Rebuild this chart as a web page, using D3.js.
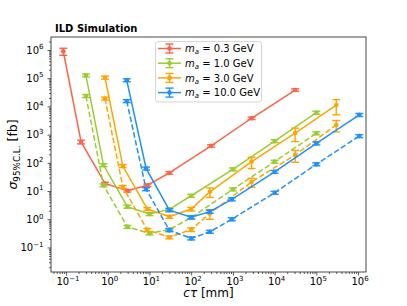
<!DOCTYPE html>
<html><head><meta charset="utf-8">
<script src="https://cdn.jsdelivr.net/npm/d3@7"></script>
<style>body{margin:0;background:#fff} svg{display:block} text{font-family:"DejaVu Sans",sans-serif;fill:#000}</style>
</head><body><svg id="c" width="407" height="306"></svg>
<script>
// ---- data ----
const masses = ["0.3", "1.0", "3.0", "10.0"];
const colors = ["#ff6347", "#9acd32", "#ffa500", "#1e90ff"];

const ctau03  = [0.086, 0.23, 0.86, 2.95, 8.9, 30, 300, 2800, 31000];
const sig03   = [9e5, 550, 18.5, 10.2, 16, 44, 400, 3800, 38000];
const err03   = [0.28, 0.15, 0.1, 0.1, 0.1, 0.1, 0.1, 0.1, 0.1];

const ctau10  = [0.30, 0.79, 2.95, 10, 30, 100, 1000, 1e4, 1e5];
const sig10   = [1.26e5, 83, 2.8, 1.53, 2.24, 6.8, 59, 590, 6000];
const sig10d  = [2.35e4, 16, 0.54, 0.316, 0.43, 1.15, 11.5, 110, 1120];
const err10   = [0.12, 0.12, 0.12, 0.12, 0.12, 0.12, 0.12, 0.12, 0.12];

const ctau30  = [0.86, 2.3, 8.9, 30, 100, 280, 2800, 31000, 3e5];
const sig30   = [1.05e5, 77, 2.3, 1.23, 2.3, 9.4, 110, 1130, 11200];
const sig30d  = [1.9e4, 14, 0.42, 0.23, 0.43, 1.6, 21, 190, 2200];
const err30   = [0.12, 0.12, 0.12, 0.12, 0.15, 0.37, 0.43, 0.5, 0.55];
const err30d  = [0.12, 0.12, 0.12, 0.12, 0.15, 0.38, 0.35, 0.45, 0.43];

const ctau100 = [2.85, 8.3, 30, 100, 280, 940, 1e4, 1e5, 1.07e6];
const sig100  = [8.5e4, 63, 2.1, 1.17, 1.86, 5.1, 48, 490, 4990];
const sig100d = [1.55e4, 11.7, 0.41, 0.21, 0.36, 1.0, 8.7, 89, 890];
const err100  = [0.12, 0.12, 0.12, 0.12, 0.12, 0.12, 0.12, 0.12, 0.12];

const xTickExp = [-1, 0, 1, 2, 3, 4, 5, 6];
const yTickExp = [-1, 0, 1, 2, 3, 4, 5, 6];

const series = [
  {c: 0, x: ctau03,  y: sig03,   e: err03,  dash: false},
  {c: 1, x: ctau10,  y: sig10,   e: err10,  dash: false},
  {c: 1, x: ctau10,  y: sig10d,  e: err10,  dash: true},
  {c: 2, x: ctau30,  y: sig30,   e: err30,  dash: false},
  {c: 2, x: ctau30,  y: sig30d,  e: err30d, dash: true},
  {c: 3, x: ctau100, y: sig100,  e: err100, dash: false},
  {c: 3, x: ctau100, y: sig100d, e: err100, dash: true}
];

// ---- layout ----
const L = 51, R = 366, T = 37, B = 272;
const svg = d3.select("#c");
const x = d3.scaleLog().domain([Math.pow(10, -1.36), Math.pow(10, 6.19)]).range([L, R]);
const y = d3.scaleLog().domain([Math.pow(10, -1.87), Math.pow(10, 6.46)]).range([B, T]);

function minorTicks(scale) {
  const [a, b] = scale.domain();
  const out = [];
  for (let e = Math.floor(Math.log10(a)); e <= Math.ceil(Math.log10(b)); e++)
    for (let k = 2; k <= 9; k++) { const v = k * Math.pow(10, e); if (v >= a && v <= b) out.push(v); }
  return out;
}

// axes ticks
const gx = svg.append("g").attr("transform", `translate(0,${B})`);
gx.call(d3.axisBottom(x).tickValues(xTickExp.map(e => Math.pow(10, e))).tickSize(3.5).tickFormat(""));
gx.append("g").call(d3.axisBottom(x).tickValues(minorTicks(x)).tickSize(2).tickFormat(""));
const gy = svg.append("g").attr("transform", `translate(${L},0)`);
gy.call(d3.axisLeft(y).tickValues(yTickExp.map(e => Math.pow(10, e))).tickSize(3.5).tickFormat(""));
gy.append("g").call(d3.axisLeft(y).tickValues(minorTicks(y)).tickSize(2).tickFormat(""));
svg.selectAll(".domain").remove();
svg.selectAll(".tick line").attr("stroke", "#333").attr("stroke-width", 0.8);

function expLabel(sel, e) {
  sel.append("tspan").text("10");
  sel.append("tspan").attr("font-size", 7).attr("dy", -4.5).text(e < 0 ? "\u2212" + (-e) : String(e));
}
xTickExp.forEach(e => {
  const t = svg.append("text").attr("x", x(Math.pow(10, e)) + 2).attr("y", 285)
    .attr("text-anchor", "middle").attr("font-size", 10);
  expLabel(t, e);
});
yTickExp.forEach(e => {
  const t = svg.append("text").attr("x", 43.5).attr("y", y(Math.pow(10, e)) + 3.8)
    .attr("text-anchor", "end").attr("font-size", 10);
  expLabel(t, e);
});

// clip
svg.append("clipPath").attr("id", "clip").append("rect")
  .attr("x", L).attr("y", T).attr("width", R - L).attr("height", B - T);
const plot = svg.append("g").attr("clip-path", "url(#clip)");

const line = d3.line().x(d => x(d[0])).y(d => y(d[1]));
series.forEach(s => {
  const pts = s.x.map((v, i) => [v, s.y[i], s.e[i]]);
  const col = colors[s.c];
  plot.append("path").attr("d", line(pts)).attr("fill", "none").attr("stroke", col)
    .attr("stroke-width", 1.5).attr("stroke-dasharray", s.dash ? "5.5,2.5" : null);
  const g = plot.append("g").attr("stroke", col).attr("stroke-width", 1.4);
  pts.forEach(p => {
    const cx = x(p[0]), y1 = y(p[1] * (1 + p[2])), y0 = y(p[1] * (1 - p[2]));
    g.append("line").attr("x1", cx).attr("x2", cx).attr("y1", y1).attr("y2", y0);
    g.append("line").attr("x1", cx - 4).attr("x2", cx + 4).attr("y1", y1).attr("y2", y1);
    g.append("line").attr("x1", cx - 4).attr("x2", cx + 4).attr("y1", y0).attr("y2", y0);
    plot.append("circle").attr("cx", cx).attr("cy", y(p[1])).attr("r", 2.3).attr("fill", col);
  });
});

// frame
svg.append("rect").attr("x", L).attr("y", T).attr("width", R - L).attr("height", B - T)
  .attr("fill", "none").attr("stroke", "#333").attr("stroke-width", 0.9);

// title
svg.append("text").attr("x", 55).attr("y", 31.5).attr("font-size", 10).attr("font-weight", "bold")
  .text("ILD Simulation");

// legend
const lg = svg.append("g");
lg.append("rect").attr("x", 155.5).attr("y", 41.5).attr("width", 106).attr("height", 60.5)
  .attr("rx", 2.5).attr("fill", "#fff").attr("fill-opacity", 0.8).attr("stroke", "#cccccc").attr("stroke-width", 0.8);
masses.forEach((m, i) => {
  const cy = 48.5 + i * 14.7, col = colors[i];
  lg.append("line").attr("x1", 158).attr("x2", 181).attr("y1", cy).attr("y2", cy).attr("stroke", col).attr("stroke-width", 1.5);
  lg.append("line").attr("x1", 169.5).attr("x2", 169.5).attr("y1", cy - 4.5).attr("y2", cy + 4.5).attr("stroke", col).attr("stroke-width", 1.4);
  [cy - 4.5, cy + 4.5].forEach(yy => lg.append("line").attr("x1", 165.5).attr("x2", 173.5).attr("y1", yy).attr("y2", yy).attr("stroke", col).attr("stroke-width", 1.4));
  lg.append("circle").attr("cx", 169.5).attr("cy", cy).attr("r", 2.3).attr("fill", col);
  const t = lg.append("text").attr("x", 185).attr("y", cy + 3.6).attr("font-size", 10);
  t.append("tspan").attr("font-style", "italic").text("m");
  t.append("tspan").attr("font-style", "italic").attr("font-size", 7).attr("dy", 2).text("a");
  t.append("tspan").attr("dy", -2).text(" = " + m + " GeV");
});

// axis labels
const xl = svg.append("text").attr("x", 208.5).attr("y", 297).attr("text-anchor", "middle").attr("font-size", 12);
xl.append("tspan").attr("font-style", "italic").text("c\u03c4");
xl.append("tspan").text(" [mm]");
const yl = svg.append("text").attr("transform", "translate(17,154.5) rotate(-90)").attr("text-anchor", "middle").attr("font-size", 12.5);
yl.append("tspan").attr("font-style", "italic").text("\u03c3");
yl.append("tspan").attr("font-size", 8.8).attr("dy", 3).text("95%C.L.");
yl.append("tspan").attr("dy", -3).text(" [fb]");
</script></body></html>
